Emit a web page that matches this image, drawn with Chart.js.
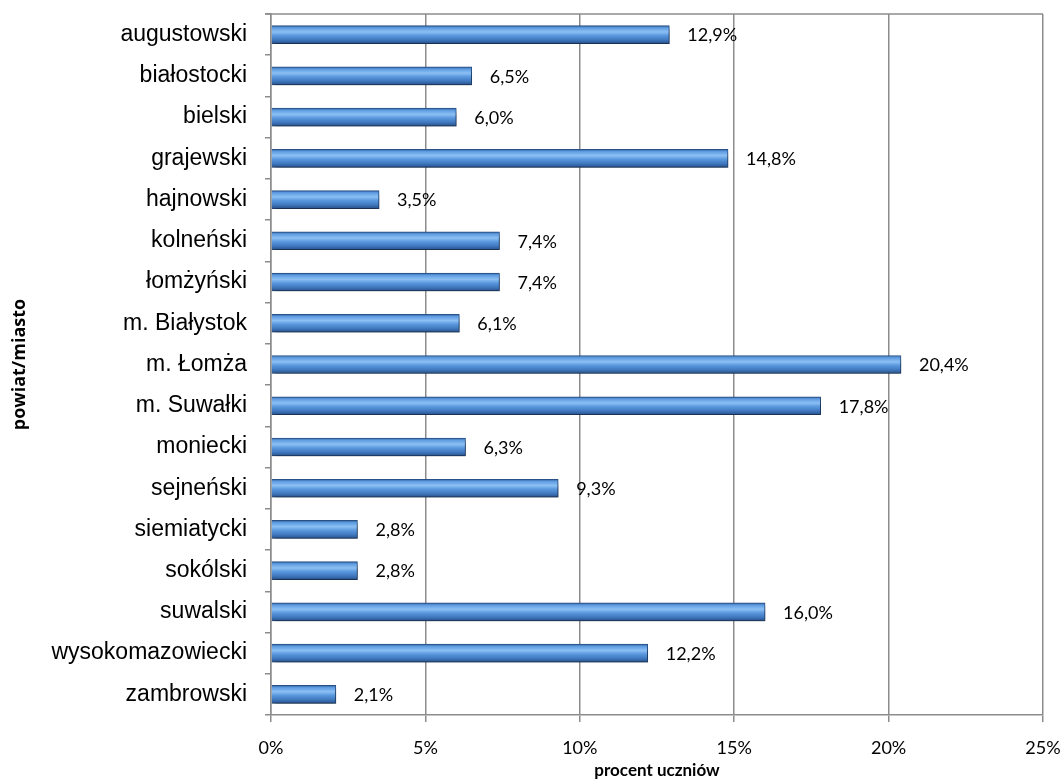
<!DOCTYPE html>
<html>
<head>
<meta charset="utf-8">
<script src="https://cdn.jsdelivr.net/npm/chart.js@4"></script>
<style>
  html, body { margin: 0; padding: 0; background: #fff; }
  #wrap { width: 1062px; height: 781px; }
</style>
</head>
<body>
<div id="wrap"><canvas id="powiatChart" width="1062" height="781"></canvas></div>
<script>
const categories = [
  "augustowski", "białostocki", "bielski", "grajewski", "hajnowski",
  "kolneński", "łomżyński", "m. Białystok", "m. Łomża", "m. Suwałki",
  "moniecki", "sejneński", "siemiatycki", "sokólski", "suwalski",
  "wysokomazowiecki", "zambrowski"
];
const percentValues = [12.9, 6.5, 6.0, 14.8, 3.5, 7.4, 7.4, 6.1, 20.4, 17.8, 6.3, 9.3, 2.8, 2.8, 16.0, 12.2, 2.1];
const xTicks = [0, 5, 10, 15, 20, 25];

const BAR_H = 18;

// per-bar vertical gradient (Excel style bevel)
function barFill(ctx) {
  const chart = ctx.chart;
  const yScale = chart.scales.y;
  if (!yScale || ctx.dataIndex === undefined) return "#4a86d0";
  const yc = yScale.getPixelForValue(ctx.dataIndex);
  if (!Number.isFinite(yc)) return "#4a86d0";
  const g = chart.ctx.createLinearGradient(0, yc - BAR_H / 2, 0, yc + BAR_H / 2);
  g.addColorStop(0, "#2f5f9a");
  g.addColorStop(0.12, "#5d9be0");
  g.addColorStop(0.35, "#8cc0f4");
  g.addColorStop(0.55, "#5a98de");
  g.addColorStop(0.8, "#3f77bd");
  g.addColorStop(1, "#27508a");
  return g;
}

const valueLabels = {
  id: "valueLabels",
  afterDatasetsDraw(chart) {
    const c = chart.ctx;
    const meta = chart.getDatasetMeta(0);
    c.save();
    c.font = "18px Lato";
    c.fillStyle = "#000";
    c.textBaseline = "middle";
    c.textAlign = "left";
    meta.data.forEach((el, i) => {
      const txt = percentValues[i].toFixed(1).replace(".", ",") + "%";
      c.fillText(txt, el.x + 18, el.y + 1);
    });
    c.restore();
  }
};

// top border of plot area + soft shadow under the bars
const plotExtras = {
  id: "plotExtras",
  beforeDatasetsDraw(chart) {
    const a = chart.chartArea;
    const c = chart.ctx;
    c.save();
    c.strokeStyle = "#8c8c8c";
    c.lineWidth = 1.5;
    c.beginPath();
    c.moveTo(a.left - 6, a.top);
    c.lineTo(a.right, a.top);
    c.stroke();
    c.restore();
  },
  beforeDatasetDraw(chart) {
    const c = chart.ctx;
    c.save();
    c.shadowColor = "rgba(0,0,0,0.45)";
    c.shadowBlur = 5;
    c.shadowOffsetX = 2;
    c.shadowOffsetY = 4;
  },
  afterDatasetDraw(chart) {
    chart.ctx.restore();
  }
};

const ctx = document.getElementById("powiatChart").getContext("2d");
new Chart(ctx, {
  type: "bar",
  data: {
    labels: categories,
    datasets: [
      {
        data: percentValues,
        backgroundColor: barFill,
        borderColor: "#2a5288",
        borderWidth: 1,
        barThickness: BAR_H,
      },
    ],
  },
  options: {
    indexAxis: "y",
    responsive: false,
    animation: false,
    layout: { padding: { top: 14, right: 19, left: 0, bottom: 0 } },
    plugins: {
      legend: { display: false },
      tooltip: { enabled: false },
    },
    scales: {
      x: {
        min: 0,
        max: 25,
        afterBuildTicks: (scale) => {
          scale.ticks = xTicks.map((v) => ({ value: v }));
        },
        afterFit: (scale) => {
          scale.height = 66;
          scale.paddingLeft = 0;
          scale.paddingRight = 0;
        },
        ticks: {
          callback: (v) => v + "%",
          font: { size: 18, family: "Lato" },
          color: "#000",
          padding: 15,
        },
        grid: { color: "#8c8c8c", lineWidth: 1.5, tickLength: 7 },
        border: { color: "#8c8c8c", width: 1.5 },
        title: {
          display: true,
          text: "procent uczniów",
          font: { size: 17, family: "Lato", weight: "bold" },
          color: "#000",
          padding: { top: 0, bottom: 0 },
        },
      },
      y: {
        afterFit: (scale) => {
          scale.width = 271;
          scale.paddingTop = 0;
          scale.paddingBottom = 0;
        },
        ticks: {
          font: { size: 23, family: "Liberation Sans" },
          color: "#000",
          padding: 18,
        },
        grid: {
          offset: true,
          drawOnChartArea: false,
          color: "#8c8c8c",
          lineWidth: 1.5,
          tickLength: 6,
        },
        border: { color: "#8c8c8c", width: 1.5 },
        title: {
          display: true,
          text: "powiat/miasto",
          font: { size: 18, family: "Open Sans", weight: "bold" },
          color: "#000",
          padding: { top: 9, bottom: 0 },
        },
      },
    },
  },
  plugins: [valueLabels, plotExtras],
});
</script>
</body>
</html>
